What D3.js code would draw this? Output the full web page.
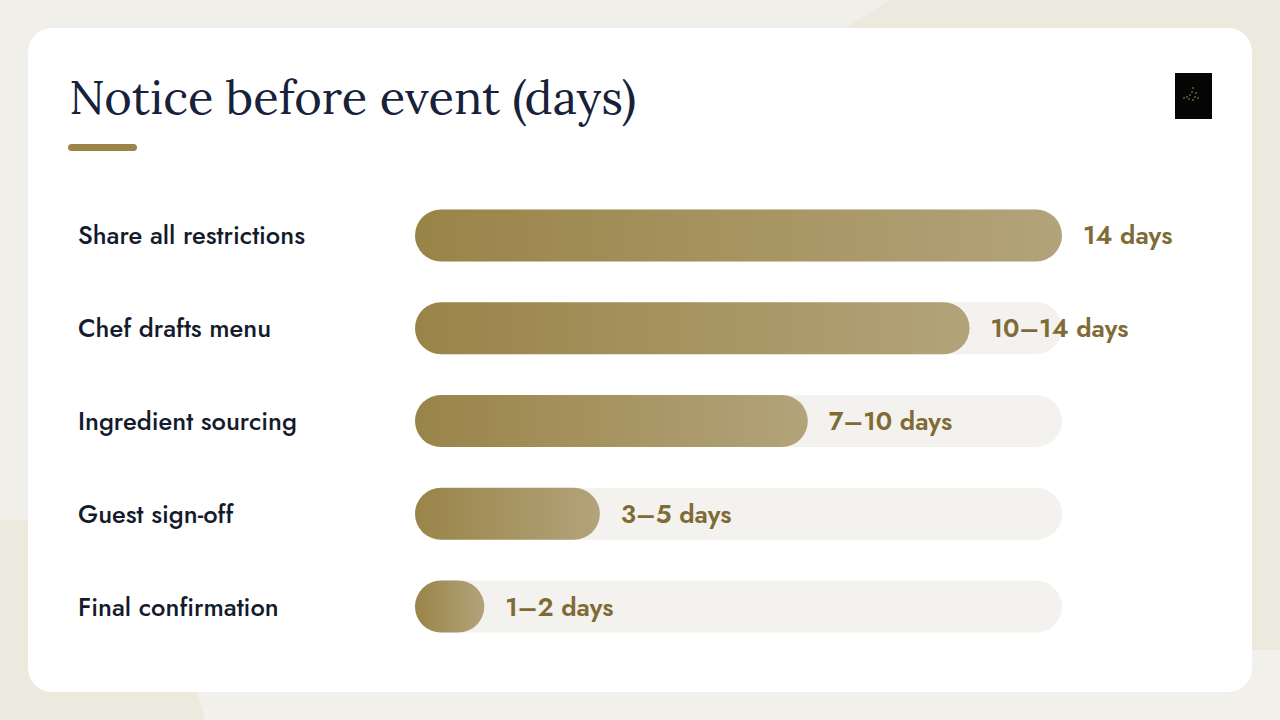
<!DOCTYPE html>
<html><head><meta charset="utf-8">
<script src="https://cdn.jsdelivr.net/npm/d3@7"></script>
<style>html,body{margin:0;padding:0;background:#f1efe9;}svg{display:block;}</style>
</head><body>
<svg id="c" width="1280" height="720"></svg>
<script>
const categories = ["Share all restrictions","Chef drafts menu","Ingredient sourcing","Guest sign-off","Final confirmation"];
const values = [14, 12, 8.5, 4, 1.5];
const valueLabels = ["14 days","10–14 days","7–10 days","3–5 days","1–2 days"];
const domainMax = 14;
const title = "Notice before event (days)";

const svg = d3.select("#c");
const W = 1280, H = 720;
const defs = svg.append("defs");
const grad = defs.append("linearGradient").attr("id","barGrad").attr("x1","0%").attr("x2","100%").attr("y1","0").attr("y2","0");
grad.append("stop").attr("offset","0%").attr("stop-color","#998448");
grad.append("stop").attr("offset","100%").attr("stop-color","#b3a37a");

// background shapes
svg.append("rect").attr("width",W).attr("height",H).attr("fill","#f1efe9");
svg.append("path").attr("d","M890,0 L1280,0 L1280,720 L0,720 L0,520 L60,520 Z").attr("fill","#ece9df");
svg.append("path").attr("d","M205,720 L185,650 L1280,650 L1280,720 Z").attr("fill","#f2f0eb");

// card
svg.append("rect").attr("x",28).attr("y",28).attr("width",1224).attr("height",664).attr("rx",24).attr("fill","#ffffff");

// title
svg.append("text").attr("x",69).attr("y",114).text(title)
  .attr("font-family","Lora, 'DejaVu Serif', 'Liberation Serif', serif").attr("font-size",47)
  .attr("fill","#17213a");
svg.append("rect").attr("x",68).attr("y",144).attr("width",69).attr("height",7).attr("rx",3.5).attr("fill","#9c8548");

// logo
const logo = svg.append("g");
logo.append("rect").attr("x",1175).attr("y",73).attr("width",37).attr("height",46).attr("fill","#050505");
[[1193,88],[1192,92],[1190,95],[1187,97],[1184,98],[1195,97],[1198,98],[1193,100],[1189,99],[1196,93]].forEach(p=>{
  logo.append("circle").attr("cx",p[0]).attr("cy",p[1]).attr("r",0.7).attr("fill","#d6b96a");
});

// scales
const x = d3.scaleLinear().domain([0,domainMax]).range([415,1062]);
const y = d3.scaleBand().domain(categories).range([189,653]).paddingInner(0.44).paddingOuter(0.22);
const bh = 52;
const yc = d => y(d) + y.bandwidth()/2;

const rows = svg.append("g").selectAll("g").data(categories).join("g");
rows.append("rect").attr("x",x(0)).attr("y",d=>yc(d)-bh/2).attr("width",x(domainMax)-x(0)).attr("height",bh)
  .attr("rx",bh/2).attr("fill","#f4f2ee");
rows.append("rect").attr("x",x(0)).attr("y",d=>yc(d)-bh/2).attr("width",(d,i)=>x(values[i])-x(0)).attr("height",bh)
  .attr("rx",bh/2).attr("fill","url(#barGrad)");
rows.append("text").attr("x",78).attr("y",d=>yc(d)).attr("dy","0.35em").text(d=>d)
  .attr("font-family","Jost, Lato, 'Noto Sans', sans-serif").attr("font-weight",500).attr("font-size",25.5).attr("fill","#141b2d");
rows.append("text").attr("x",(d,i)=>x(values[i])+21).attr("y",d=>yc(d)).attr("dy","0.35em").text((d,i)=>valueLabels[i])
  .attr("font-family","Jost, Lato, 'Noto Sans', sans-serif").attr("font-weight",600).attr("font-size",25.5).attr("fill","#7f6b35");
</script>
</body></html>
